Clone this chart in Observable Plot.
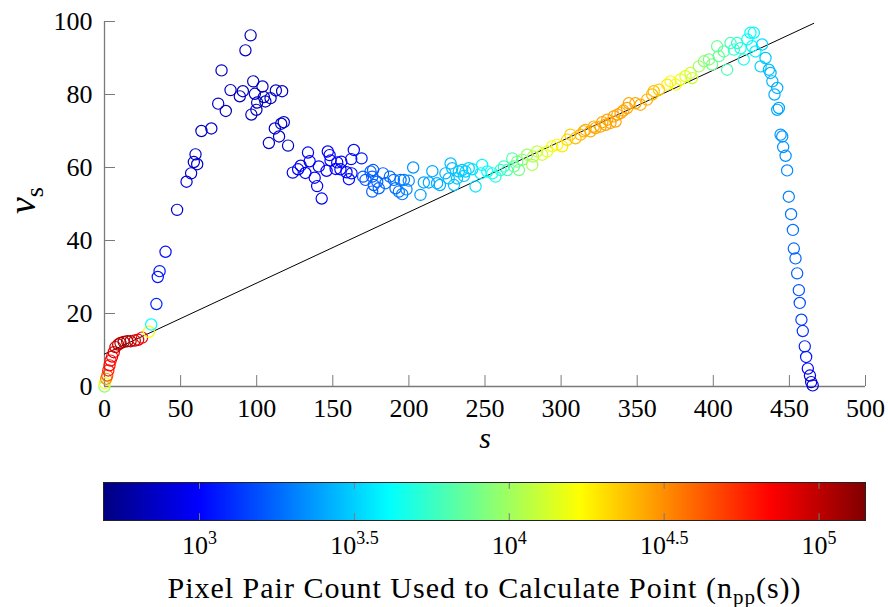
<!DOCTYPE html>
<html><head><meta charset="utf-8">
<script src="https://cdn.jsdelivr.net/npm/d3@7"></script>
<script src="https://cdn.jsdelivr.net/npm/@observablehq/plot@0.6"></script>
<style>
body{margin:0;background:#fff;}
#chart{width:888px;height:607px;font-family:"Liberation Serif",serif;}
svg{display:block}
</style></head><body><div id="chart"></div>
<script>
// s (lag), v_s, log10 of pixel pair count
const sValues = [
0.0,0.2,1.1,1.8,2.5,3.3,4.0,5.0,6.1,7.2,
9.0,10.5,12.6,14.9,17.1,19.9,22.1,24.7,29.2,30.7,
34.1,35.0,36.2,40.1,47.7,53.9,56.9,58.7,59.8,60.9,
63.7,70.2,74.7,76.9,79.7,82.8,88.9,90.9,92.6,96.0,
96.5,97.7,98.8,99.8,100.3,103.8,104.7,105.7,108.0,109.1,
111.9,112.6,114.7,116.1,116.7,117.8,120.6,123.7,127.2,128.9,
132.0,133.7,134.8,138.1,139.7,140.8,142.7,145.9,146.7,147.9,
148.5,151.9,152.9,155.0,155.6,159.0,160.6,162.1,162.3,163.8,
168.9,169.9,171.5,174.8,175.9,175.9,176.5,176.9,179.2,180.2,
183.0,184.6,187.5,190.1,191.2,193.4,194.5,195.6,196.7,198.4,
199.9,202.8,207.6,209.8,213.1,215.4,218.5,220.4,224.0,226.2,
227.4,228.5,229.6,231.6,232.8,235.0,236.1,237.2,239.3,241.6,
243.8,247.1,248.1,251.5,254.8,256.9,260.2,262.4,264.6,267.9,
269.0,271.2,272.3,274.4,277.7,281.0,281.6,284.3,287.6,290.8,
294.2,297.4,300.7,304.0,306.1,309.5,312.8,314.9,316.0,319.3,
321.5,322.6,325.9,327.1,329.2,330.3,332.4,334.6,335.8,337.0,
339.1,340.9,343.4,344.5,348.8,352.2,356.5,359.8,360.9,364.3,
369.7,371.9,375.2,378.5,381.7,385.0,386.1,390.5,393.9,397.2,
399.2,402.5,403.6,406.9,409.1,411.3,413.5,415.7,417.9,420.0,
422.3,424.4,425.5,426.6,427.7,431.1,432.1,434.3,436.5,437.6,
438.8,440.2,442.0,442.0,443.1,444.2,445.3,445.9,447.5,448.5,
449.6,451.1,452.3,452.9,454.0,455.1,456.2,456.8,457.9,458.8,
460.1,461.0,462.1,463.5,464.3,465.3];
const vValues = [
0.0,0.9,2.1,3.0,4.4,5.8,7.1,8.2,9.4,10.8,
11.5,11.9,12.2,12.4,12.4,12.6,12.8,13.4,15.0,17.0,
22.6,30.0,31.6,36.9,48.4,56.1,58.4,61.5,63.6,60.9,
70.0,70.7,77.5,86.6,75.5,81.2,79.5,80.9,92.1,96.2,
74.5,83.6,80.2,75.8,77.8,82.2,79.3,78.1,66.7,79.0,
70.7,81.1,68.5,72.0,80.9,72.4,66.0,58.6,59.5,60.5,
58.5,64.1,61.7,57.2,54.9,60.3,51.5,59.1,64.4,63.4,
61.9,59.6,61.4,59.5,61.6,58.7,56.8,62.3,58.4,64.8,
62.5,57.5,56.6,58.9,57.5,53.4,59.3,55.2,56.1,54.3,
58.4,55.7,57.5,56.6,54.3,53.4,56.6,52.7,56.6,54.0,
56.4,60.0,52.5,55.9,55.9,59.0,55.7,55.2,58.4,57.0,
61.1,59.8,55.2,57.0,58.9,59.3,57.7,58.9,59.8,59.5,
54.8,58.4,60.7,58.9,58.4,57.5,59.3,60.3,59.3,62.5,
60.3,61.6,59.3,62.1,63.5,60.7,63.0,64.4,63.5,64.4,
65.8,66.2,65.8,67.6,69.0,68.0,69.0,69.9,70.3,69.9,
71.2,70.8,71.2,72.4,71.7,73.1,72.2,74.0,72.6,74.5,
74.9,75.6,76.3,77.6,77.6,77.2,78.6,80.0,80.9,81.3,
82.7,83.6,82.7,84.1,85.0,85.9,84.5,87.7,89.1,89.6,
88.2,93.2,90.5,91.8,86.8,94.1,92.3,94.1,92.7,89.6,
95.1,96.9,93.2,96.9,91.8,87.7,93.7,90.0,86.8,85.9,
83.6,80.0,81.8,75.8,76.3,69.0,68.5,65.6,63.2,59.2,
52.0,47.2,42.9,37.8,35.1,31.0,26.4,22.9,18.3,15.2,
11.0,8.1,4.9,3.0,1.2,0.3];
const logNpp = [
3.95,4.2,4.5,4.65,4.78,4.82,4.82,4.85,4.9,4.95,
5.0,5.05,5.05,5.05,5.03,4.98,4.92,4.85,4.2,3.62,
3.08,3.05,3.05,3.02,2.9,2.88,2.88,2.87,2.87,2.87,
2.86,2.86,2.85,2.85,2.85,2.85,2.84,2.84,2.84,2.84,
2.85,2.85,2.85,2.85,2.85,2.85,2.85,2.85,2.87,2.85,
2.87,2.85,2.87,2.87,2.85,2.87,2.88,2.96,2.97,2.97,
2.97,2.97,2.97,2.97,2.98,2.97,2.98,2.98,2.98,2.98,
2.98,2.99,2.99,3.0,3.0,3.0,3.02,3.02,3.02,3.02,
3.05,3.2,3.2,3.22,3.22,3.22,3.22,3.22,3.24,3.24,
3.24,3.25,3.25,3.26,3.26,3.27,3.27,3.3,3.3,3.32,
3.33,3.35,3.38,3.38,3.4,3.4,3.42,3.42,3.43,3.45,
3.45,3.45,3.46,3.47,3.47,3.48,3.48,3.5,3.5,3.52,
3.55,3.57,3.6,3.62,3.65,3.68,3.72,3.75,3.78,3.82,
3.85,3.88,3.9,3.92,3.98,4.02,4.04,4.08,4.12,4.16,
4.2,4.24,4.28,4.32,4.35,4.38,4.4,4.42,4.42,4.43,
4.43,4.44,4.44,4.44,4.45,4.45,4.45,4.45,4.45,4.45,
4.45,4.45,4.45,4.45,4.44,4.43,4.42,4.4,4.38,4.35,
4.28,4.25,4.22,4.18,4.15,4.12,4.1,4.0,3.95,3.92,
3.9,3.88,3.86,3.84,3.8,3.78,3.75,3.72,3.7,3.66,
3.64,3.62,3.6,3.6,3.58,3.5,3.52,3.48,3.45,3.44,
3.43,3.42,3.42,3.4,3.4,3.36,3.36,3.35,3.34,3.33,
3.3,3.28,3.27,3.25,3.24,3.22,3.2,3.18,3.15,3.12,
3.08,3.05,3.0,2.95,2.92,2.9];
// fitted reference line (endpoints)
const fitS = [0, 466];
const fitV = [8.9, 99.5];
const xTicks = [0, 50, 100, 150, 200, 250, 300, 350, 400, 450, 500];
const yTicks = [0, 20, 40, 60, 80, 100];
const cbTicks = [3, 3.5, 4, 4.5, 5];
const cbTickLabels = ["3", "3.5", "4", "4.5", "5"];
const cbDomain = [2.69, 5.15];
const xLabel = "s";
const yLabel = "ν_s";
const cbTitle = "Pixel Pair Count Used to Calculate Point (n_pp(s))";

// jet colormap
const jetStops = ["#000080", "#0000ff", "#00ffff", "#ffff00", "#ff0000", "#800000"];
const jetPos = [0, 0.125, 0.375, 0.625, 0.875, 1];
const jetScale = d3.scaleLinear().domain(jetPos).range(jetStops).interpolate(d3.interpolateRgb).clamp(true);
const jet = t => jetScale(t);

const points = sValues.map((s, i) => ({s, v: vValues[i], n: logNpp[i]}));
const fit = fitS.map((s, i) => ({s, v: fitV[i]}));
const colorOpts = {type: "linear", domain: cbDomain, interpolate: jet};
const FONT = "'Liberation Serif', 'Times New Roman', serif";
const GRAY = "#7a7a7a";
// tick lengths in data units (inward ticks)
const xTickLen = 3.0, yTickLen = 7.2, cbTickLen = 0.18;

const main = Plot.plot({
  width: 888, height: 466,
  marginLeft: 104, marginRight: 23, marginTop: 21, marginBottom: 80,
  style: {fontFamily: FONT, fontSize: "26px", color: "#000", background: "#fff", overflow: "visible"},
  x: {domain: [0, 500], label: null},
  y: {domain: [0, 100], label: null},
  color: colorOpts,
  marks: [
    Plot.ruleY([0], {x1: 0, x2: 500, stroke: GRAY, strokeWidth: 1.3}),
    Plot.ruleX([0], {y1: 0, y2: 100, stroke: GRAY, strokeWidth: 1.3}),
    Plot.ruleX(xTicks, {x: d => d, y1: 0, y2: xTickLen, stroke: GRAY, strokeWidth: 1}),
    Plot.ruleY(yTicks, {y: d => d, x1: 0, x2: yTickLen, stroke: GRAY, strokeWidth: 1}),
    Plot.axisX({ticks: xTicks, tickSize: 0, tickPadding: 12, fontSize: 26, label: null, tickFormat: d => String(d)}),
    Plot.axisY({ticks: yTicks, tickSize: 0, tickPadding: 12, fontSize: 26, label: null, tickFormat: d => String(d)}),
    Plot.line(fit, {x: "s", y: "v", stroke: "#000", strokeWidth: 1}),
    Plot.dot(points, {x: "s", y: "v", stroke: "n", r: 5.6, strokeWidth: 1.2, fill: "none"}),
    Plot.text([xLabel], {frameAnchor: "bottom", dy: 61, fontSize: 30, fontStyle: "italic"}),
    Plot.text([yLabel], {frameAnchor: "left", dx: -82, dy: 10, rotate: -90, fontSize: 38, fontStyle: "italic"})
  ]
});

const cb = Plot.plot({
  width: 888, height: 141,
  marginLeft: 103, marginRight: 23, marginTop: 16, marginBottom: 87,
  style: {fontFamily: FONT, fontSize: "26px", color: "#000", background: "#fff", overflow: "visible"},
  x: {domain: cbDomain, axis: null},
  y: {domain: [0, 1], axis: null},
  color: colorOpts,
  marks: [
    Plot.raster({fill: (x, y) => x, x1: cbDomain[0], x2: cbDomain[1], y1: 0, y2: 1, width: 762, height: 1, imageRendering: "auto"}),
    Plot.ruleX(cbTicks, {x: d => d, y1: 0, y2: cbTickLen, stroke: GRAY, strokeWidth: 1}),
    Plot.ruleX(cbTicks, {x: d => d, y1: 1 - cbTickLen, y2: 1, stroke: GRAY, strokeWidth: 1}),
    Plot.frame({stroke: "#222", strokeWidth: 1}),
    Plot.text(cbTicks, {x: d => d, y: 0, text: (d, i) => "10^" + cbTickLabels[i], dy: 33, lineAnchor: "bottom", fontSize: 26}),
    Plot.text([cbTitle], {frameAnchor: "bottom", dy: 77, lineAnchor: "bottom", fontSize: 30})
  ]
});

function rich(svg) {
  d3.select(svg).selectAll("text").each(function () {
    const t = this.textContent;
    const sel = d3.select(this);
    let m;
    if ((m = /^10\^(.+)$/.exec(t))) {
      sel.text("10");
      sel.append("tspan").attr("font-size", 18).attr("dy", -10).text(m[1]);
    } else if (t === yLabel) {
      sel.text("ν");
      sel.append("tspan").attr("font-size", 26).attr("font-style", "normal").attr("dy", 8).text("s");
    } else if (t === cbTitle) {
      sel.text("Pixel Pair Count Used to Calculate Point (n");
      sel.style("letter-spacing", "1px");
      sel.append("tspan").attr("font-size", 21).attr("dy", 6).text("pp");
      sel.append("tspan").attr("font-size", 30).attr("dy", -6).text("(s))");
    }
  });
}
rich(main);
rich(cb);
document.getElementById("chart").append(main, cb);
</script>
</body></html>
